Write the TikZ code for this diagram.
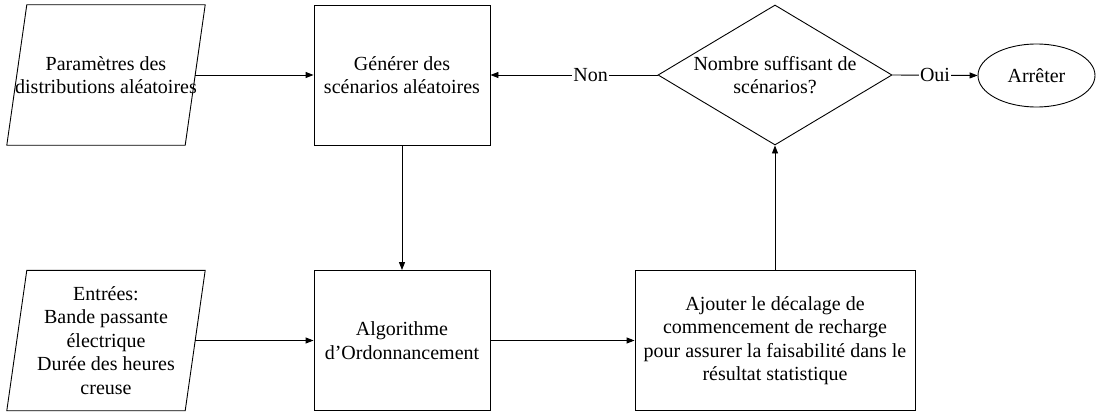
\documentclass[tikz,border=0pt]{standalone}
\usepackage{fontspec}
\setmainfont{Liberation Serif}
\usetikzlibrary{shapes.geometric,arrows.meta,calc}
\begin{document}
\begin{tikzpicture}[x=1pt,y=-1pt,
  txt/.style={align=center, inner sep=0pt, font=\fontsize{20}{23.5}\selectfont},
  procbox/.style={txt, draw, line width=0.9pt, minimum width=176pt, minimum height=140pt},
  iobox/.style={txt, minimum width=198pt, minimum height=140pt},
  decision/.style={txt, draw, line width=0.9pt, diamond, aspect=1.67, minimum width=234pt, minimum height=140pt},
  terminal/.style={txt, draw, line width=0.9pt, ellipse, minimum width=117pt, minimum height=63pt},
  arr/.style={line width=0.9pt, -{Triangle[length=8pt,width=6pt]}},
  lbl/.style={fill=white, inner sep=1pt, font=\fontsize{20}{23.5}\selectfont}
]
\useasboundingbox (0,0) rectangle (1096,412);

% input parallelograms (text node + slanted outline)
\node[iobox] (par) at (106,75) {Paramètres des\\distributions aléatoires};
\node[iobox] (inp) at (106,340.5) {Entrées:\\Bande passante\\électrique\\Durée des heures\\creuse};
\foreach \n in {par,inp}{
  \draw[line width=0.9pt] ($(\n.north west)+(20,0)$) -- (\n.north east)
    -- ($(\n.south east)+(-20,0)$) -- (\n.south west) -- cycle;
}

% process steps
\node[procbox] (gen) at (402,75) {Générer des\\scénarios aléatoires};
\node[procbox] (alg) at (402,340.5) {Algorithme\\d’Ordonnancement};
\node[procbox, minimum width=280pt] (add) at (775,340.5) {Ajouter le décalage de\\commencement de recharge\\pour assurer la faisabilité dans le\\résultat statistique};

% decision and end
\node[decision] (dec) at (775,75) {Nombre suffisant de\\scénarios?};
\node[terminal] (stop) at (1036.5,75.5) {Arrêter};

% connectors
\draw[arr] ($(par.east)+(-10,0)$) -- (gen.west);
\draw[arr] ($(inp.east)+(-10,0)$) -- (alg.west);
\draw[arr] (gen.south) -- (alg.north);
\draw[arr] (alg.east) -- (add.west);
\draw[arr] (add.north) -- (dec.south);
\draw[arr] (dec.west) -- node[lbl, pos=0.4] {Non} (gen.east);
\draw[arr] (dec.east) -- node[lbl] {Oui} (stop.west);
\end{tikzpicture}
\end{document}
